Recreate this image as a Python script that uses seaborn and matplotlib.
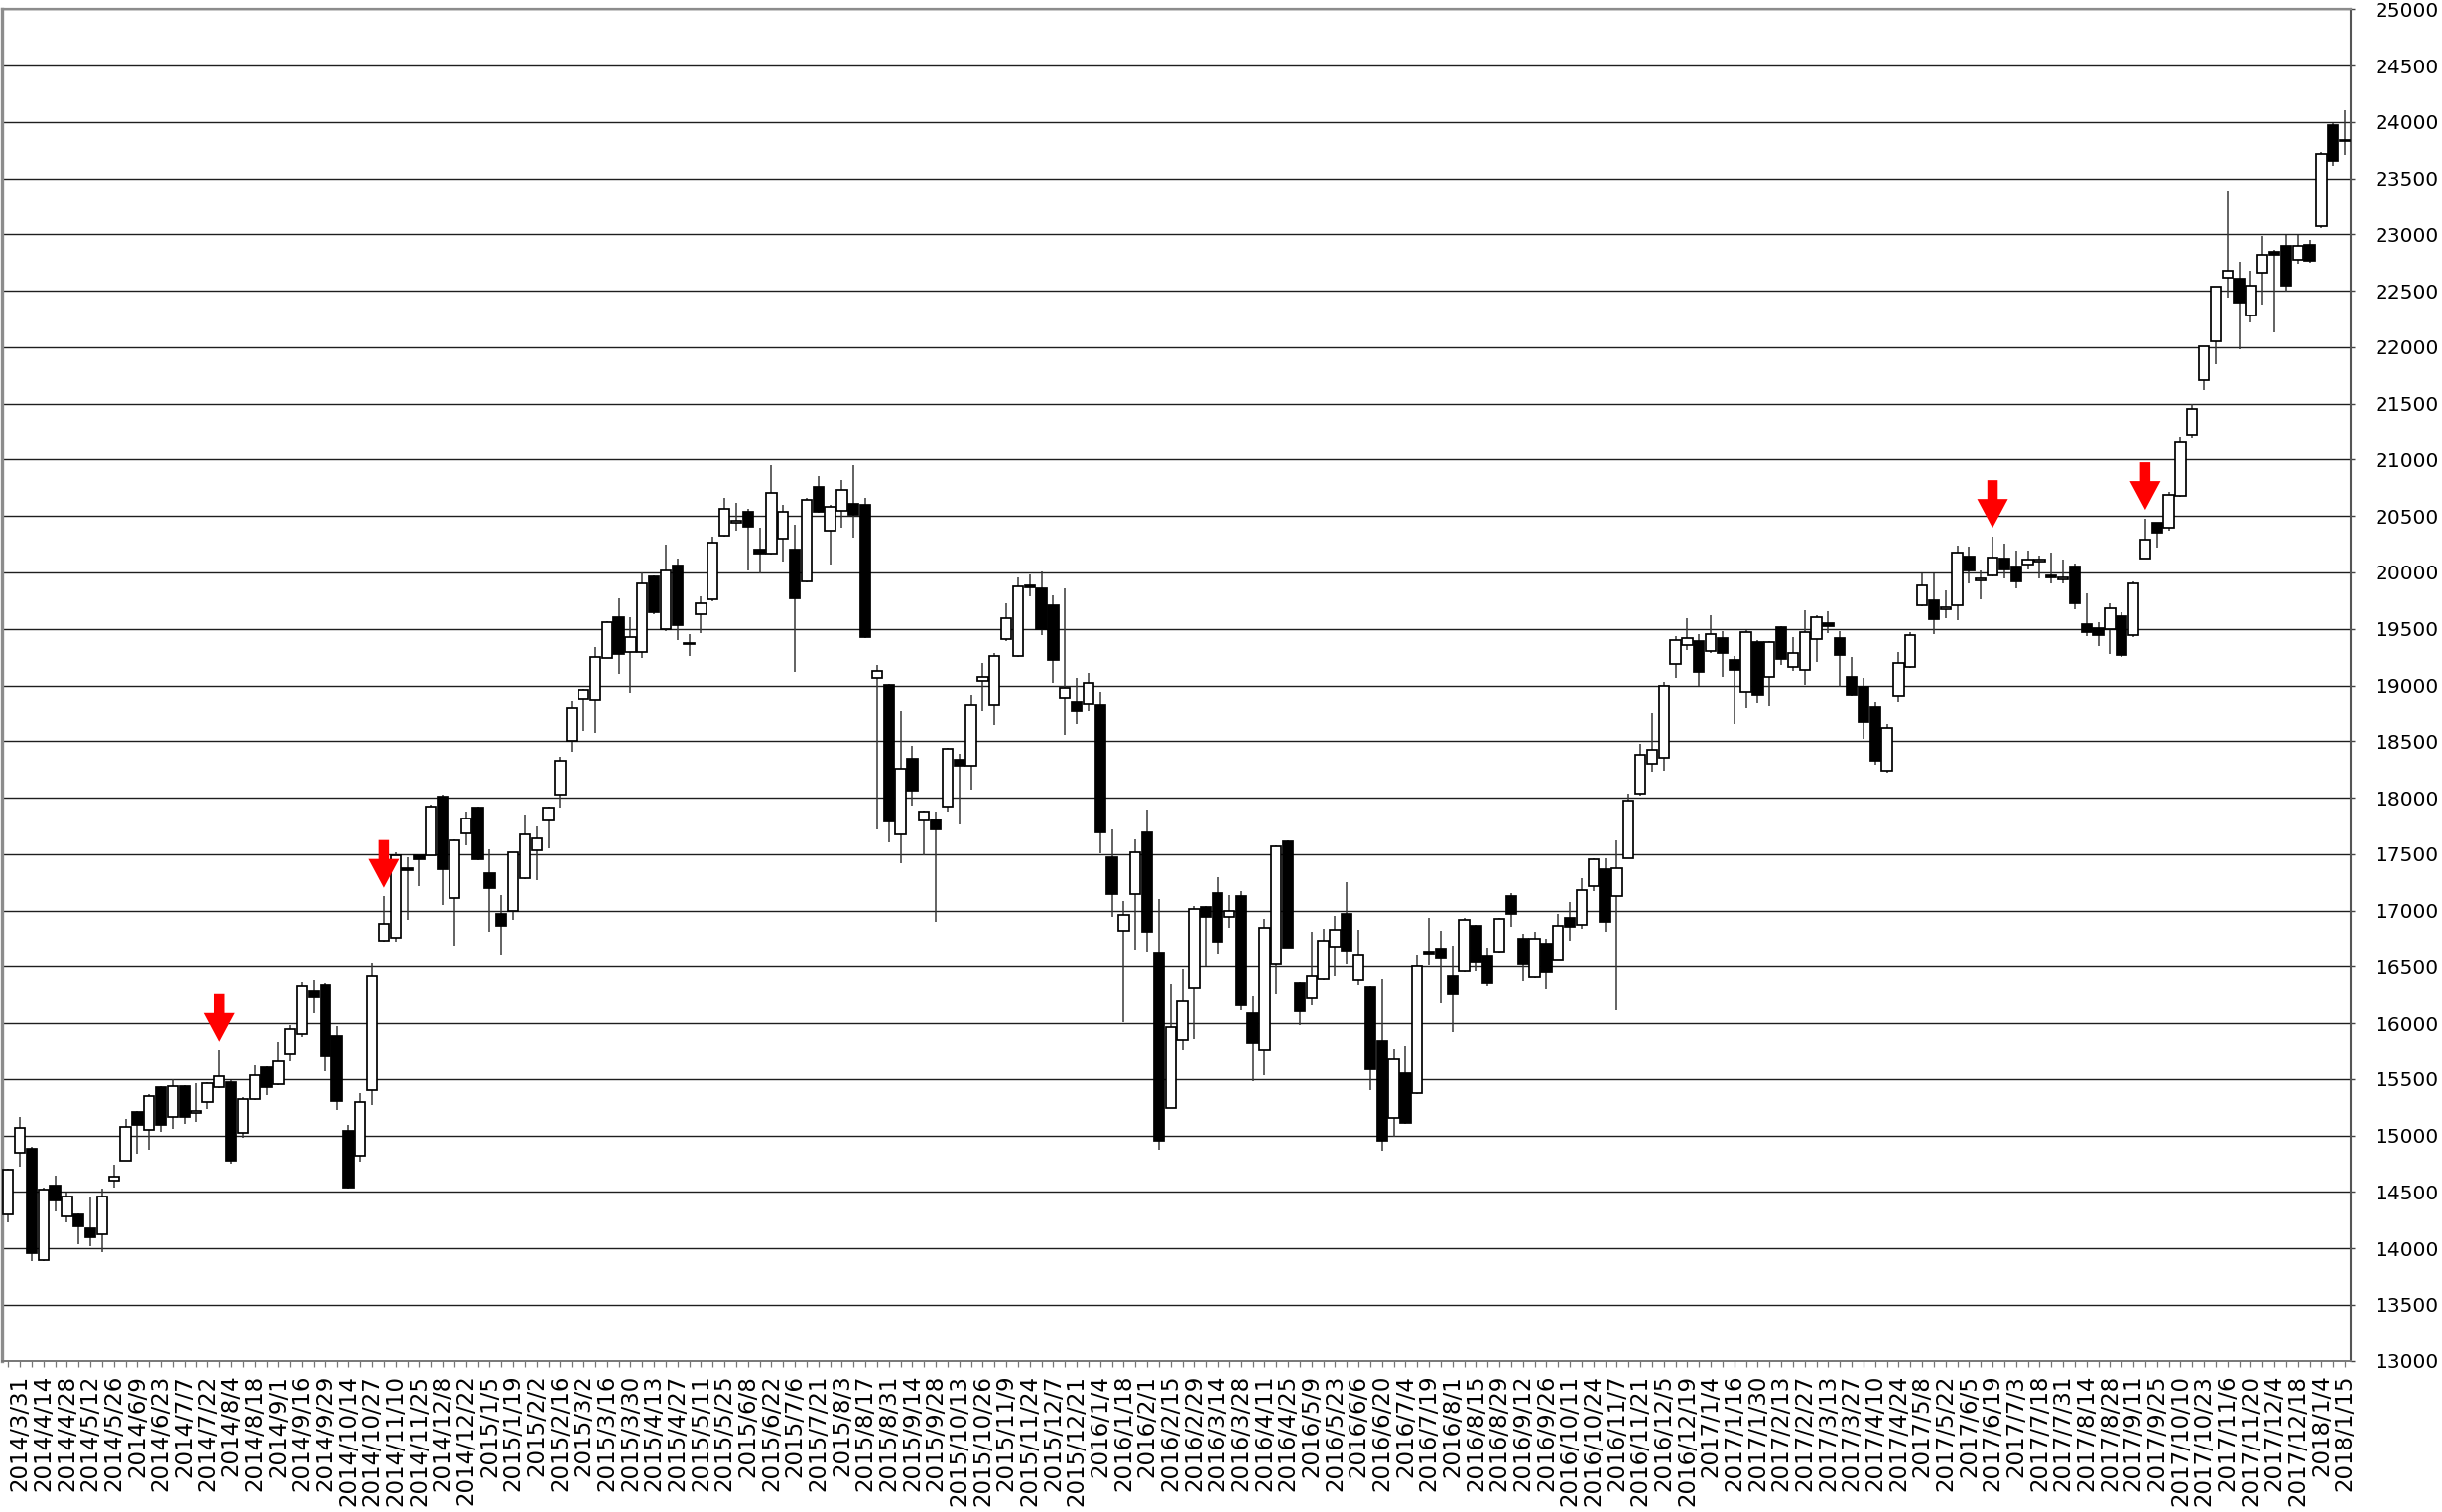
import numpy as np
import pandas as pd
import matplotlib
matplotlib.use('Agg')
import matplotlib.pyplot as plt
from matplotlib.transforms import offset_copy
import seaborn as sns

# weekly bars, the first bar is the week of 2014/3/24
opens = [
    14300, 14844, 14885, 13900, 14553, 14288, 14300, 14176, 14129, 14597,
    14779, 15208, 15050, 15426, 15161, 15441, 15200, 15294, 15432, 15476,
    15026, 15323, 15614, 15455, 15726, 15902, 16284, 16340, 15885, 15037,
    14825, 15400, 16734, 16758, 17379, 17494, 17494, 18009, 17115, 17682,
    17915, 17327, 16970, 17000, 17288, 17536, 17794, 18030, 18500, 18870,
    18862, 19245, 19604, 19295, 19295, 19962, 19501, 20059, 19370, 19633,
    19759, 20330, 20440, 20535, 20200, 20171, 20303, 20200, 19921, 20759,
    20374, 20544, 20612, 20597, 19070, 19005, 17673, 18341, 17797, 17803,
    17917, 18331, 18282, 19038, 18823, 19409, 19259, 19881, 19855, 19709,
    18881, 18842, 18829, 18819, 17468, 16820, 17142, 17696, 16618, 15247,
    15849, 16309, 17029, 17155, 16940, 17131, 16089, 15767, 16518, 17616,
    16356, 16224, 16392, 16670, 16973, 16377, 16318, 15840, 15159, 15549,
    15373, 16627, 16657, 16415, 16459, 16863, 16593, 16627, 17130, 16752,
    16404, 16708, 16560, 16937, 16877, 17217, 17365, 17129, 17467, 18040,
    18303, 18354, 19190, 19355, 19392, 19308, 19418, 19221, 18939, 19380,
    19071, 19515, 19162, 19133, 19412, 19550, 19418, 19074, 18986, 18800,
    18236, 18895, 19159, 19712, 19750, 19674, 19706, 20138, 19926, 19976,
    20127, 20055, 20072, 20096, 19974, 19935, 20055, 19540, 19508, 19498,
    19612, 19443, 20127, 20437, 20398, 20681, 21226, 21708, 22051, 22615,
    22605, 22279, 22660, 22849, 22898, 22774, 22908, 23071, 23968, 23840,
]
highs = [
    14710, 15167, 14897, 14538, 14647, 14491, 14310, 14464, 14526, 14744,
    15147, 15215, 15370, 15441, 15500, 15450, 15464, 15470, 15761, 15490,
    15338, 15632, 15620, 15832, 15985, 16361, 16379, 16350, 15976, 15091,
    15379, 16530, 17127, 17515, 17470, 17500, 17935, 18030, 17630, 17873,
    17920, 17540, 17137, 17520, 17849, 17742, 17920, 18363, 18855, 18970,
    19339, 19570, 19774, 19604, 20000, 19970, 20247, 20127, 19456, 19789,
    20318, 20662, 20618, 20560, 20397, 20950, 20603, 20427, 20662, 20853,
    20600, 20815, 20947, 20660, 19181, 19010, 18771, 18461, 17885, 17878,
    18440, 18389, 18907, 19194, 19285, 19725, 19953, 19985, 20008, 19800,
    19862, 19064, 19106, 18940, 17715, 17087, 17631, 17898, 17102, 16342,
    16474, 17037, 17040, 17293, 17140, 17169, 16239, 16929, 17580, 17620,
    16360, 16811, 16841, 16955, 17252, 16826, 16330, 16386, 15775, 15799,
    16603, 16935, 16819, 16678, 16937, 16870, 16661, 16935, 17156, 16796,
    16813, 16750, 16968, 17072, 17285, 17460, 17460, 17618, 18040, 18478,
    18748, 19035, 19439, 19594, 19450, 19624, 19483, 19256, 19491, 19400,
    19390, 19520, 19424, 19668, 19624, 19653, 19483, 19250, 19065, 18850,
    18648, 19294, 19471, 19991, 19991, 19844, 20241, 20226, 20021, 20320,
    20257, 20192, 20198, 20153, 20176, 20111, 20078, 19817, 19557, 19729,
    19650, 19920, 20479, 20440, 20714, 21203, 21496, 22010, 22540, 23381,
    22761, 22676, 22989, 22860, 22996, 22996, 22947, 23736, 23990, 24104,
]
lows = [
    14235, 14720, 13888, 13885, 14329, 14229, 14035, 14020, 13970, 14538,
    14779, 14838, 14873, 15032, 15058, 15102, 15117, 15235, 15420, 14750,
    14979, 15310, 15361, 15450, 15667, 15879, 16091, 15570, 15228, 14530,
    14764, 15273, 16720, 16722, 16916, 17218, 17490, 17046, 16676, 17576,
    17445, 16812, 16600, 16915, 17280, 17273, 17552, 17915, 18409, 18591,
    18574, 19240, 19098, 18927, 19245, 19633, 19477, 19398, 19260, 19465,
    19745, 20320, 20368, 20015, 19995, 20160, 20094, 19118, 19910, 20530,
    20074, 20397, 20309, 19420, 17715, 17608, 17419, 17927, 17487, 16901,
    17875, 17761, 18073, 18764, 18640, 19389, 19250, 19790, 19441, 19025,
    18559, 18650, 18764, 17510, 16947, 16012, 16647, 16624, 14871, 15240,
    15761, 15863, 16500, 16612, 16847, 16113, 15482, 15532, 16260, 16660,
    15981, 16157, 16380, 16415, 16524, 16333, 15400, 14865, 14992, 15100,
    15365, 16515, 16179, 15926, 16450, 16459, 16330, 16620, 16853, 16371,
    16400, 16297, 16555, 16735, 16836, 17173, 16813, 16118, 17460, 18016,
    18229, 18236, 19062, 19315, 19000, 19288, 19071, 18653, 18792, 18836,
    18809, 19177, 19124, 19006, 19206, 19462, 18983, 18900, 18521, 18295,
    18224, 18845, 19150, 19700, 19456, 19594, 19580, 19903, 19765, 19965,
    19948, 19857, 20029, 19948, 19899, 19899, 19671, 19436, 19351, 19280,
    19253, 19430, 20120, 20218, 20372, 20670, 21196, 21620, 21848, 22442,
    21979, 22220, 22377, 22132, 22491, 22735, 22745, 23060, 23607, 23706,
]
closes = [
    14697, 15067, 13956, 14520, 14426, 14456, 14197, 14097, 14464, 14632,
    15079, 15097, 15349, 15097, 15441, 15161, 15220, 15464, 15526, 14773,
    15323, 15538, 15426, 15670, 15949, 16323, 16229, 15712, 15303, 14537,
    15297, 16415, 16879, 17494, 17355, 17455, 17924, 17370, 17621, 17818,
    17455, 17197, 16864, 17515, 17676, 17642, 17915, 18327, 18794, 18964,
    19250, 19560, 19280, 19427, 19906, 19648, 20015, 19530, 19377, 19730,
    20265, 20565, 20460, 20406, 20171, 20706, 20538, 19774, 20647, 20535,
    20580, 20727, 20515, 19427, 19129, 17787, 18259, 18064, 17878, 17722,
    18432, 18285, 18823, 19077, 19259, 19595, 19878, 19865, 19497, 19227,
    18979, 18764, 19025, 17689, 17142, 16957, 17516, 16810, 14953, 15967,
    16192, 17014, 16940, 16720, 17000, 16163, 15825, 16847, 17571, 16665,
    16104, 16412, 16729, 16832, 16635, 16597, 15599, 14953, 15681, 15109,
    16500, 16612, 16573, 16256, 16920, 16540, 16354, 16927, 16971, 16522,
    16752, 16448, 16860, 16853, 17184, 17453, 16903, 17376, 17973, 18380,
    18421, 18994, 19399, 19422, 19119, 19454, 19286, 19139, 19471, 18912,
    19383, 19236, 19286, 19471, 19603, 19521, 19265, 18912, 18668, 18330,
    18618, 19197, 19447, 19882, 19588, 19691, 20176, 20015, 19947, 20132,
    20029, 19925, 20117, 20118, 19958, 19952, 19729, 19469, 19449, 19687,
    19273, 19906, 20290, 20355, 20688, 21154, 21457, 22008, 22533, 22680,
    22399, 22549, 22817, 22817, 22549, 22898, 22768, 23713, 23654, 23830,
]

# labels sit on every second bar, starting with bar 1
week_labels = [
    '2014/3/31', '2014/4/14', '2014/4/28', '2014/5/12', '2014/5/26', '2014/6/9',
    '2014/6/23', '2014/7/7', '2014/7/22', '2014/8/4', '2014/8/18', '2014/9/1',
    '2014/9/16', '2014/9/29', '2014/10/14', '2014/10/27', '2014/11/10', '2014/11/25',
    '2014/12/8', '2014/12/22',
    '2015/1/5', '2015/1/19', '2015/2/2', '2015/2/16', '2015/3/2', '2015/3/16',
    '2015/3/30', '2015/4/13', '2015/4/27', '2015/5/11', '2015/5/25', '2015/6/8',
    '2015/6/22', '2015/7/6', '2015/7/21', '2015/8/3', '2015/8/17', '2015/8/31',
    '2015/9/14', '2015/9/28', '2015/10/13', '2015/10/26', '2015/11/9', '2015/11/24',
    '2015/12/7', '2015/12/21',
    '2016/1/4', '2016/1/18', '2016/2/1', '2016/2/15', '2016/2/29', '2016/3/14',
    '2016/3/28', '2016/4/11', '2016/4/25', '2016/5/9', '2016/5/23', '2016/6/6',
    '2016/6/20', '2016/7/4', '2016/7/19', '2016/8/1', '2016/8/15', '2016/8/29',
    '2016/9/12', '2016/9/26', '2016/10/11', '2016/10/24', '2016/11/7', '2016/11/21',
    '2016/12/5', '2016/12/19',
    '2017/1/4', '2017/1/16', '2017/1/30', '2017/2/13', '2017/2/27', '2017/3/13',
    '2017/3/27', '2017/4/10', '2017/4/24', '2017/5/8', '2017/5/22', '2017/6/5',
    '2017/6/19', '2017/7/3', '2017/7/18', '2017/7/31', '2017/8/14', '2017/8/28',
    '2017/9/11', '2017/9/25', '2017/10/10', '2017/10/23', '2017/11/6', '2017/11/20',
    '2017/12/4', '2017/12/18',
    '2018/1/4', '2018/1/15',
]

# bars marked with a red arrow
arrow_bars = [18, 32, 169, 182]

df = pd.DataFrame({'open': opens, 'high': highs, 'low': lows, 'close': closes})
df['x'] = np.arange(len(df))
df['up'] = df['close'] >= df['open']

sns.set_style('white')
plt.rcParams['font.family'] = ['DejaVu Sans']

fig = plt.figure(figsize=(24.61, 15.24), dpi=100)
ax = fig.add_axes([0.0008, 0.0999, 0.9618, 0.894])

# wicks, then bodies on top
ax.vlines(df['x'], df['low'], df['high'], color='#383838', linewidth=1.1, zorder=2)
body_lo = np.minimum(df['open'], df['close'])
body_h = (df['close'] - df['open']).abs()
ax.bar(df['x'], body_h, bottom=body_lo, width=0.87,
       color=np.where(df['up'], 'white', 'black'),
       edgecolor='black', linewidth=1.25, zorder=3)

# red arrows above the marked bars
tip = offset_copy(ax.transData, fig=fig, x=0, y=8.5, units='dots')
ms = 10 * 100 / 72.0
for i in arrow_bars:
    ax.annotate('', xy=(i, highs[i]), xycoords=tip,
                xytext=(0, 48), textcoords='offset pixels',
                arrowprops=dict(arrowstyle='simple,head_length=%.3f,head_width=%.3f,tail_width=%.3f'
                                % (29 / ms, 31 / ms, 10.5 / ms),
                                color='#ff0000', lw=0, mutation_scale=10,
                                shrinkA=0, shrinkB=0),
                zorder=5)

ax.set_xlim(-0.53, 199.5)
ax.set_ylim(13000, 25000)

ax.set_yticks(np.arange(13000, 25001, 500))
ax.yaxis.tick_right()
ax.grid(axis='y', color='#1e1e1e', linewidth=1.0)
ax.grid(axis='x', visible=False)
ax.set_axisbelow(True)

ax.set_xticks(np.arange(1, len(df), 2))
ax.set_xticklabels(week_labels, rotation=90)
ax.set_xticks(np.arange(len(df)), minor=True)

ax.tick_params(axis='y', which='major', direction='out', length=3, width=1.0,
               color='#444444', pad=15, labelsize=14.5, labelcolor='black')
ax.tick_params(axis='x', which='both', direction='out', length=4, width=0.9,
               color='#777777', bottom=True)
ax.tick_params(axis='x', which='major', pad=6, labelsize=16.5, labelcolor='black')

for side, col, lw in [('left', '#8c8c8c', 2.4), ('top', '#8c8c8c', 1.6),
                      ('right', '#555555', 1.5), ('bottom', '#777777', 1.4)]:
    ax.spines[side].set_visible(True)
    ax.spines[side].set_color(col)
    ax.spines[side].set_linewidth(lw)

fig.savefig('out.png', dpi=100, facecolor='white')
